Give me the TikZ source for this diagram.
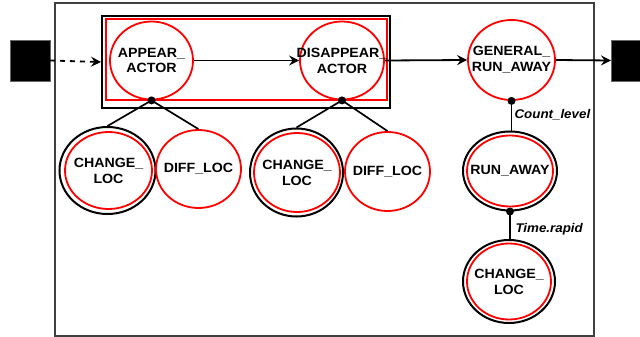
\documentclass[tikz,border=0pt]{standalone}
\usepackage{fontspec}
\setmainfont{Liberation Sans}[FakeStretch=1.06]
\usetikzlibrary{shapes.geometric,arrows.meta,positioning}

\begin{document}
\begin{tikzpicture}[x=1pt,y=-1pt,
  every node/.style={font=\fontsize{13.4}{15.8}\selectfont\bfseries},
  state/.style={ellipse, draw=red, line width=1.8pt, inner sep=0pt},
  ring/.style={ellipse, draw=black, line width=2pt, inner sep=0pt},
  caption/.style={align=center, inner sep=0pt},
  flow/.style={line width=1.8pt, -{Stealth[length=10pt,width=10pt,inset=3.5pt]}},
  link/.style={line width=1.7pt},
  knot/.style={circle, fill=black, inner sep=0pt, minimum size=8pt},
  cond/.style={anchor=west, font=\fontsize{12.6}{15}\selectfont\bfseries\itshape},
  port/.style={fill=black, draw=black!60, line width=0.6pt}
]
\useasboundingbox (0,0) rectangle (640,337);
\clip (0,0) rectangle (640,337);

% outer frame
\draw[black!75, line width=1.5pt] (55,3) rectangle (594,336);

% entry and exit ports
\path[port] (10,40) rectangle (50,81);
\coordinate (inport) at (50,60.5);
\path[port] (611,40) rectangle (660,81);
\coordinate (outport) at (611,60.5);

% sequence group box
\node[draw=black, line width=2pt, minimum width=288pt, minimum height=92pt, inner sep=0pt] (group) at (246,62) {};
\draw[red, line width=1.8pt] (106,19) rectangle (386.7,100);

% top row
\node[state, minimum width=83pt, minimum height=78pt] (appear) at (151.5,60.5) {};
\node[caption] at (appear) {APPEAR\_\\ACTOR};
\node[state, minimum width=84pt, minimum height=78pt] (disappear) at (342,60.5) {};
\node[caption] at (disappear) {DISAPPEAR\_\\ACTOR};
\node[state, minimum width=87pt, minimum height=80pt] (general) at (511.5,60) {};
\node[caption] at (general) {GENERAL\_\\RUN\_AWAY};

\draw[flow, dash pattern=on 5pt off 5pt] (inport) -- (group.west);
\draw[flow] (appear.east) -- (disappear.west);
\draw[flow] (disappear.east) -- (general.west);
\draw[flow] (general.east) -- (outport);

% children of APPEAR_ACTOR
\node[ring, minimum width=96pt, minimum height=87pt] (cl1r) at (107.5,170.5) {};
\node[state, minimum width=87pt, minimum height=77pt] (cl1) at (108.5,170.5) {};
\node[caption] at (cl1) {CHANGE\_\\LOC};
\node[state, minimum width=85pt, minimum height=78pt] (dl1) at (198.5,169) {};
\node[caption] at (dl1) {DIFF\_LOC};
\node[knot] (k1) at (appear.south) {};
\draw[link] (k1.center) -- (cl1r.north);
\draw[link] (k1.center) -- (dl1.north);

% children of DISAPPEAR_ACTOR
\node[ring, minimum width=93pt, minimum height=88pt] (cl2r) at (296.5,172.5) {};
\node[state, minimum width=86pt, minimum height=79pt] (cl2) at (297,172.5) {};
\node[caption] at (cl2) {CHANGE\_\\LOC};
\node[state, minimum width=85pt, minimum height=79pt] (dl2) at (387.5,171.5) {};
\node[caption] at (dl2) {DIFF\_LOC};
\node[knot] (k2) at (disappear.south) {};
\draw[link] (k2.center) -- (cl2r.north);
\draw[link] (k2.center) -- (dl2.north);

% right column
\node[ring, minimum width=94pt, minimum height=79pt] (rar) at (510,171) {};
\node[state, minimum width=86pt, minimum height=71pt] (ra) at (510,171) {};
\node[caption] at (ra) {RUN\_AWAY};
\node[ring, minimum width=92pt, minimum height=83pt] (cl3r) at (509,281.5) {};
\node[state, minimum width=84pt, minimum height=76pt] (cl3) at (509,281.5) {};
\node[caption] at (cl3) {CHANGE\_\\LOC};

\node[knot] (k3) at (general.south) {};
\draw[link] (k3.center) -- (k3.center |- rar.north);
\node[cond] at (511,115) {Count\_level};

\node[knot] (k4) at (rar.south) {};
\draw[link] (k4.center) -- (k4.center |- cl3r.north);
\node[cond] at (512,229) {Time.rapid};
\end{tikzpicture}
\end{document}
